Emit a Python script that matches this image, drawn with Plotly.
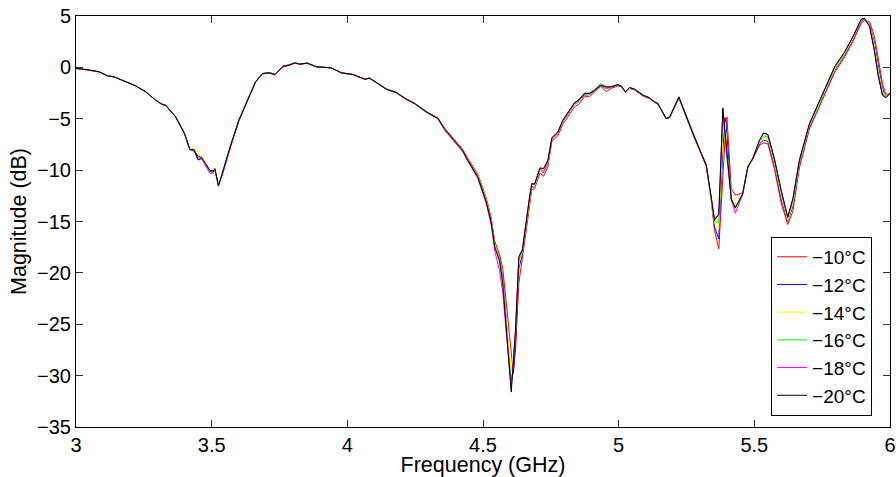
import plotly.graph_objects as go

freq = [3.000, 3.036, 3.085, 3.116, 3.140, 3.183, 3.220, 3.257, 3.294, 3.316,
        3.330, 3.367, 3.400, 3.420, 3.435, 3.450, 3.463, 3.478, 3.493, 3.505,
        3.512, 3.525, 3.540, 3.570, 3.600, 3.632, 3.662, 3.687, 3.711, 3.733,
        3.763, 3.785, 3.807, 3.824, 3.852, 3.886, 3.940, 3.978, 4.020, 4.064,
        4.082, 4.144, 4.180, 4.217, 4.248, 4.291, 4.334, 4.358, 4.395, 4.426,
        4.444, 4.481, 4.512, 4.530, 4.543, 4.561, 4.573, 4.586, 4.604, 4.612,
        4.620, 4.632, 4.645, 4.672, 4.680, 4.690, 4.710, 4.723, 4.739, 4.754,
        4.776, 4.794, 4.819, 4.837, 4.856, 4.874, 4.893, 4.911, 4.933, 4.954,
        4.972, 4.997, 5.010, 5.025, 5.040, 5.059, 5.090, 5.114, 5.132, 5.145,
        5.175, 5.188, 5.222, 5.243, 5.274, 5.305, 5.323, 5.342, 5.353, 5.369,
        5.384, 5.392, 5.399, 5.415, 5.430, 5.457, 5.476, 5.494, 5.519, 5.534,
        5.550, 5.574, 5.599, 5.623, 5.642, 5.666, 5.703, 5.734, 5.765, 5.796,
        5.833, 5.863, 5.894, 5.906, 5.925, 5.943, 5.956, 5.972, 5.984, 6.000]

mag_m10 = [-0.08, -0.20, -0.43, -0.80, -0.92, -1.38, -1.80, -2.36, -3.18, -3.56,
           -3.66, -4.80, -6.44, -8.00, -8.15, -8.60, -8.70, -9.35, -10.05, -10.10,
           -9.90, -11.45, -10.30, -7.65, -5.20, -3.22, -1.42, -0.62, -0.55, -0.72,
           0.05, 0.18, 0.42, 0.30, 0.40, 0.05, -0.05, -0.52, -0.68, -1.13,
           -1.03, -2.08, -2.42, -3.05, -3.48, -4.28, -4.92, -5.90, -7.05, -8.00,
           -8.85, -10.40, -12.70, -14.60, -16.90, -18.20, -19.60, -23.00, -28.00, -29.80,
           -27.50, -21.00, -18.60, -13.30, -11.90, -11.80, -10.30, -10.60, -9.70, -7.20,
           -6.65, -5.55, -4.55, -3.85, -3.50, -2.85, -2.85, -2.40, -1.85, -2.35,
           -2.05, -1.80, -1.90, -2.40, -2.05, -2.20, -2.80, -3.05, -3.42, -3.60,
           -5.00, -4.90, -3.00, -4.45, -6.55, -8.50, -9.65, -13.10, -15.80, -17.65,
           -10.50, -7.00, -4.82, -11.80, -12.45, -12.20, -9.70, -8.95, -7.60, -7.35,
           -7.45, -9.90, -13.20, -15.30, -14.00, -9.80, -6.00, -4.20, -2.30, -0.50,
           1.00, 2.50, 4.30, 4.55, 4.45, 3.00, 1.00, -1.50, -2.60, -2.60]

mag_m12 = [-0.10, -0.20, -0.43, -0.82, -0.92, -1.40, -1.80, -2.38, -3.20, -3.58,
           -3.68, -4.80, -6.44, -8.00, -8.00, -8.70, -8.75, -9.40, -10.15, -10.20,
           -9.95, -11.50, -10.30, -7.65, -5.20, -3.15, -1.40, -0.60, -0.50, -0.65,
           0.12, 0.22, 0.45, 0.31, 0.42, 0.06, -0.04, -0.53, -0.69, -1.15,
           -1.05, -2.12, -2.45, -3.10, -3.52, -4.33, -4.98, -5.96, -7.16, -8.13,
           -9.00, -10.60, -13.00, -14.90, -17.20, -18.60, -20.50, -24.50, -30.60, -29.50,
           -26.60, -19.60, -18.20, -12.90, -11.60, -11.65, -10.00, -10.25, -9.35, -7.00,
           -6.45, -5.30, -4.30, -3.60, -3.25, -2.70, -2.65, -2.30, -1.80, -2.05,
           -1.95, -1.72, -1.87, -2.42, -2.02, -2.18, -2.78, -3.02, -3.40, -3.58,
           -5.00, -4.88, -2.95, -4.40, -6.50, -8.45, -9.60, -13.00, -15.50, -16.70,
           -8.00, -4.90, -6.50, -12.90, -13.60, -12.40, -9.70, -8.90, -7.45, -7.10,
           -7.20, -9.50, -12.80, -15.00, -13.50, -9.50, -5.80, -4.00, -2.10, -0.30,
           1.20, 2.70, 4.45, 4.70, 4.20, 2.40, 0.30, -2.00, -2.90, -2.55]

mag_m14 = [-0.10, -0.20, -0.43, -0.82, -0.92, -1.40, -1.80, -2.38, -3.18, -3.58,
           -3.68, -4.80, -6.44, -7.95, -7.85, -8.50, -8.70, -9.35, -10.00, -10.10,
           -9.85, -11.50, -10.25, -7.60, -5.15, -3.20, -1.40, -0.60, -0.53, -0.70,
           0.12, 0.22, 0.45, 0.31, 0.42, 0.06, -0.04, -0.53, -0.69, -1.15,
           -1.05, -2.12, -2.45, -3.10, -3.52, -4.33, -4.98, -5.96, -7.16, -8.10,
           -9.00, -10.55, -12.90, -14.90, -17.20, -18.70, -20.80, -25.00, -29.50, -28.00,
           -25.50, -19.00, -18.00, -12.80, -11.50, -11.60, -10.00, -10.20, -9.30, -6.95,
           -6.40, -5.25, -4.25, -3.55, -3.20, -2.65, -2.60, -2.25, -1.75, -2.00,
           -1.95, -1.70, -1.85, -2.40, -2.00, -2.15, -2.75, -3.00, -3.38, -3.55,
           -4.98, -4.85, -2.90, -4.35, -6.45, -8.40, -9.55, -12.90, -15.20, -15.70,
           -6.50, -5.30, -8.00, -12.60, -13.40, -12.30, -9.60, -8.80, -7.30, -6.86,
           -6.95, -9.30, -12.50, -14.90, -13.30, -9.35, -5.70, -3.90, -2.00, -0.20,
           1.30, 2.80, 4.55, 4.75, 4.10, 2.10, -0.10, -2.30, -2.90, -2.50]

mag_m16 = [-0.12, -0.22, -0.45, -0.82, -0.92, -1.40, -1.82, -2.38, -3.20, -3.58,
           -3.70, -4.78, -6.40, -8.00, -8.00, -9.05, -8.85, -9.40, -10.05, -10.10,
           -9.90, -11.50, -10.15, -7.50, -5.10, -3.18, -1.38, -0.60, -0.53, -0.70,
           0.15, 0.25, 0.45, 0.32, 0.42, 0.06, -0.04, -0.53, -0.69, -1.15,
           -1.05, -2.10, -2.43, -3.08, -3.50, -4.30, -4.95, -5.95, -7.12, -8.10,
           -9.00, -10.60, -13.00, -14.95, -17.30, -18.90, -21.30, -25.50, -30.90, -28.80,
           -25.80, -18.80, -17.90, -12.70, -11.40, -11.40, -9.75, -9.90, -9.05, -6.85,
           -6.30, -5.15, -4.15, -3.45, -3.05, -2.50, -2.45, -2.15, -1.60, -1.85,
           -1.85, -1.65, -1.80, -2.35, -1.95, -2.10, -2.68, -2.95, -3.33, -3.50,
           -4.95, -4.80, -2.87, -4.30, -6.42, -8.35, -9.50, -12.85, -15.00, -15.10,
           -4.60, -6.80, -9.00, -12.90, -13.70, -12.30, -9.65, -8.85, -7.20, -6.67,
           -6.75, -9.10, -12.20, -14.70, -13.10, -9.20, -5.60, -3.80, -1.90, -0.10,
           1.40, 2.90, 4.60, 4.77, 4.00, 1.80, -0.40, -2.50, -2.90, -2.40]

mag_m18 = [-0.10, -0.22, -0.43, -0.82, -0.92, -1.40, -1.80, -2.40, -3.22, -3.60,
           -3.70, -4.85, -6.50, -8.05, -8.05, -9.00, -8.90, -9.60, -10.30, -10.30,
           -10.00, -11.55, -10.40, -7.75, -5.25, -3.25, -1.45, -0.65, -0.55, -0.72,
           0.10, 0.20, 0.42, 0.30, 0.40, 0.04, -0.06, -0.55, -0.70, -1.17,
           -1.07, -2.15, -2.48, -3.12, -3.55, -4.38, -5.02, -6.10, -7.30, -8.25,
           -9.15, -10.80, -13.30, -15.30, -17.80, -19.80, -22.00, -26.00, -31.30, -28.50,
           -25.40, -18.40, -17.70, -12.50, -11.30, -11.40, -9.90, -10.15, -9.20, -6.90,
           -6.35, -5.20, -4.20, -3.50, -3.15, -2.60, -2.55, -2.25, -1.75, -1.95,
           -1.92, -1.70, -1.85, -2.40, -1.98, -2.15, -2.72, -3.00, -3.38, -3.55,
           -5.00, -4.85, -2.90, -4.35, -6.45, -8.40, -9.55, -12.80, -14.70, -14.30,
           -4.10, -6.40, -8.50, -12.90, -14.20, -12.35, -9.70, -8.90, -7.10, -6.40,
           -6.55, -8.90, -12.00, -14.60, -12.80, -9.05, -5.50, -3.70, -1.75, 0.04,
           1.50, 2.95, 4.65, 4.77, 3.98, 1.60, -0.60, -2.65, -2.95, -2.50]

mag_m20 = [-0.10, -0.20, -0.43, -0.82, -0.92, -1.40, -1.80, -2.38, -3.20, -3.58,
           -3.68, -4.80, -6.44, -8.00, -8.00, -8.98, -8.80, -9.37, -10.00, -10.08,
           -9.85, -11.55, -10.20, -7.58, -5.15, -3.20, -1.40, -0.60, -0.53, -0.70,
           0.12, 0.22, 0.45, 0.31, 0.42, 0.06, -0.04, -0.53, -0.69, -1.15,
           -1.05, -2.12, -2.45, -3.10, -3.52, -4.33, -4.98, -5.96, -7.16, -8.13,
           -9.04, -10.66, -13.10, -15.05, -17.49, -18.80, -21.06, -25.28, -31.60, -28.60,
           -25.60, -18.46, -17.80, -12.60, -11.30, -11.35, -9.79, -9.85, -9.04, -6.83,
           -6.28, -5.15, -4.17, -3.45, -3.10, -2.54, -2.54, -2.22, -1.73, -1.90,
           -1.90, -1.67, -1.83, -2.38, -1.96, -2.12, -2.70, -2.97, -3.35, -3.52,
           -4.98, -4.82, -2.87, -4.33, -6.44, -8.39, -9.53, -12.78, -14.90, -14.30,
           -3.94, -6.30, -8.40, -12.78, -13.69, -12.30, -9.69, -8.88, -7.09, -6.38,
           -6.54, -8.88, -11.97, -14.56, -12.78, -9.04, -5.47, -3.68, -1.73, 0.06,
           1.52, 2.98, 4.70, 4.77, 3.96, 1.52, -0.76, -2.71, -2.97, -2.54]

series_names = ["\u221210\u00b0C", "\u221212\u00b0C", "\u221214\u00b0C",
                "\u221216\u00b0C", "\u221218\u00b0C", "\u221220\u00b0C"]
series_values = [mag_m10, mag_m12, mag_m14, mag_m16, mag_m18, mag_m20]
series_colors = ["#ff0000", "#0000ff", "#ffff00", "#00ff00", "#ff00ff", "#000000"]

x_ticks = [3, 3.5, 4, 4.5, 5, 5.5, 6]
x_tick_labels = ["3", "3.5", "4", "4.5", "5", "5.5", "6"]
y_ticks = [5, 0, -5, -10, -15, -20, -25, -30, -35]
y_tick_labels = ["5", "0", "\u22125", "\u221210", "\u221215", "\u221220",
                 "\u221225", "\u221230", "\u221235"]

fig = go.Figure()
for name, vals, col in zip(series_names, series_values, series_colors):
    fig.add_trace(go.Scatter(x=freq, y=vals, mode="lines", name=name,
                             line=dict(color=col, width=1)))

font_family = "Liberation Sans, Arial, sans-serif"
fig.update_layout(
    width=896, height=477,
    margin=dict(l=76, r=6, t=16, b=50, autoexpand=False),
    paper_bgcolor="white", plot_bgcolor="white",
    font=dict(family=font_family, color="black", size=20),
    showlegend=True,
    legend=dict(x=0.978, y=0.027, xanchor="right", yanchor="bottom",
                bgcolor="white", bordercolor="black", borderwidth=1,
                font=dict(size=19, family=font_family, color="black"),
                itemwidth=30, tracegroupgap=0),
)
fig.update_xaxes(range=[3, 6], tickvals=x_ticks, ticktext=x_tick_labels,
                 ticks="inside", ticklen=7, tickcolor="#333",
                 showline=True, linecolor="black", linewidth=1, mirror="ticks",
                 showgrid=False, zeroline=False, automargin=False,
                 tickfont=dict(size=20),
                 title=dict(text="Frequency (GHz)", font=dict(size=21.5), standoff=1))
fig.update_yaxes(range=[-35, 5], tickvals=y_ticks, ticktext=y_tick_labels,
                 ticks="inside", ticklen=7, tickcolor="#333",
                 showline=True, linecolor="black", linewidth=1, mirror="ticks",
                 showgrid=False, zeroline=False, automargin=False,
                 tickfont=dict(size=20),
                 title=dict(text="Magnitude (dB)", font=dict(size=21.5), standoff=4))

fig.write_html("out.html", config={"displayModeBar": False},
               post_script="document.body.style.margin='0';document.body.style.padding='0';")
